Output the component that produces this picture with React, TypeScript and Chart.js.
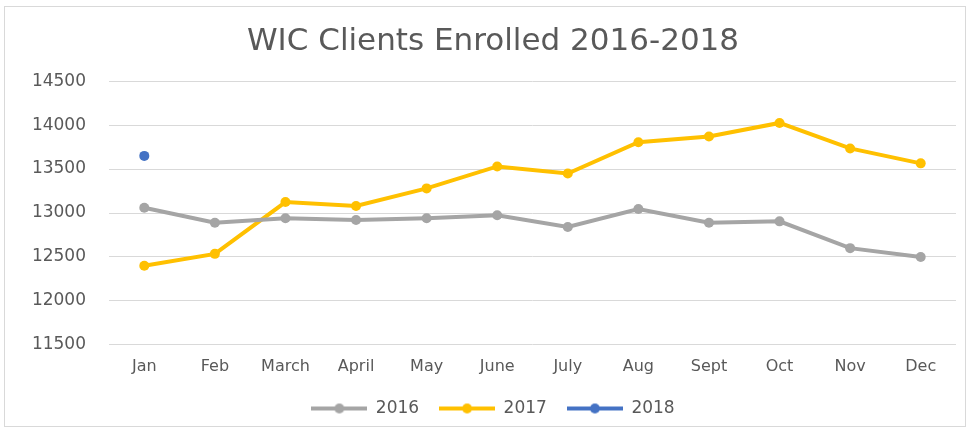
import React, { useEffect, useRef } from "react";
import { Chart, registerables } from "chart.js";

Chart.register(...registerables);

const months = ["Jan", "Feb", "March", "April", "May", "June", "July", "Aug", "Sept", "Oct", "Nov", "Dec"];
const values2016 = [13060, 12890, 12940, 12920, 12940, 12975, 12840, 13045, 12890, 12905, 12600, 12500];
const values2017 = [12400, 12535, 13125, 13080, 13280, 13530, 13450, 13805, 13870, 14025, 13735, 13565];
const values2018: (number | null)[] = [13650, null, null, null, null, null, null, null, null, null, null, null];
const yTicks = [11500, 12000, 12500, 13000, 13500, 14000, 14500];

const seriesNames = ["2016", "2017", "2018"];
const seriesColors = ["#A5A5A5", "#FFC000", "#4472C4"];

function legendIcon(color: string): HTMLCanvasElement {
  const c = document.createElement("canvas");
  c.width = 56;
  c.height = 12;
  const ctx = c.getContext("2d")!;
  ctx.strokeStyle = color;
  ctx.lineWidth = 4;
  ctx.beginPath();
  ctx.moveTo(0, 6);
  ctx.lineTo(56, 6);
  ctx.stroke();
  ctx.fillStyle = color;
  ctx.beginPath();
  ctx.arc(28, 6, 5, 0, Math.PI * 2);
  ctx.fill();
  return c;
}

export default function App() {
  const ref = useRef<HTMLCanvasElement | null>(null);

  useEffect(() => {
    if (!ref.current) return;
    const data = [values2016, values2017, values2018];
    const chart = new Chart(ref.current, {
      type: "line",
      data: {
        labels: months,
        datasets: seriesNames.map((name, i) => ({
          label: name,
          data: data[i],
          borderColor: seriesColors[i],
          backgroundColor: seriesColors[i],
          borderWidth: 4,
          pointRadius: 5,
          pointBorderWidth: 0,
          pointBackgroundColor: seriesColors[i],
          tension: 0,
          spanGaps: false,
        })),
      },
      options: {
        animation: false,
        responsive: false,
        maintainAspectRatio: false,
        layout: { padding: { left: 30, right: 14, top: 0, bottom: 4 } },
        plugins: {
          tooltip: { enabled: false },
          title: {
            display: true,
            text: "WIC Clients Enrolled 2016-2018",
            color: "#595959",
            font: { family: "DejaVu Sans", size: 31, weight: "normal" },
            padding: { top: 23, bottom: 21 },
          },
          legend: {
            position: "bottom",
            labels: {
              color: "#595959",
              font: { family: "DejaVu Sans", size: 17 },
              usePointStyle: true,
              pointStyleWidth: 56,
              padding: 20,
              generateLabels: (ch: any) =>
                ch.data.datasets.map((ds: any, i: number) => ({
                  text: ds.label,
                  fillStyle: seriesColors[i],
                  strokeStyle: seriesColors[i],
                  fontColor: "#595959",
                  pointStyle: legendIcon(seriesColors[i]),
                  lineWidth: 0,
                  hidden: false,
                  datasetIndex: i,
                })),
            },
          },
        },
        scales: {
          x: {
            offset: true,
            grid: { display: false, offset: true },
            border: { display: false },
            ticks: {
              color: "#595959",
              font: { family: "DejaVu Sans", size: 16 },
              padding: 4,
              maxRotation: 0,
              autoSkip: false,
            },
          },
          y: {
            min: 11500,
            max: 14500,
            afterFit: (scale: any) => {
              scale.width = 79;
            },
            afterBuildTicks: (scale: any) => {
              scale.ticks = yTicks.map((v) => ({ value: v }));
            },
            grid: { color: "#D9D9D9", lineWidth: 1, drawTicks: false },
            border: { display: false },
            ticks: {
              color: "#595959",
              font: { family: "DejaVu Sans", size: 17 },
              padding: 23,
              callback: (v: any) => String(v),
            },
          },
        },
      },
    });
    return () => chart.destroy();
  }, []);

  return (
    <div style={{ position: "absolute", left: 0, top: 0, width: 970, height: 431, background: "#fff" }}>
      <div
        style={{
          position: "absolute",
          left: 4,
          top: 6,
          width: 960,
          height: 419,
          border: "1px solid #D9D9D9",
        }}
      />
      <canvas ref={ref} width={970} height={431} style={{ position: "absolute", left: 0, top: 0 }} />
    </div>
  );
}
